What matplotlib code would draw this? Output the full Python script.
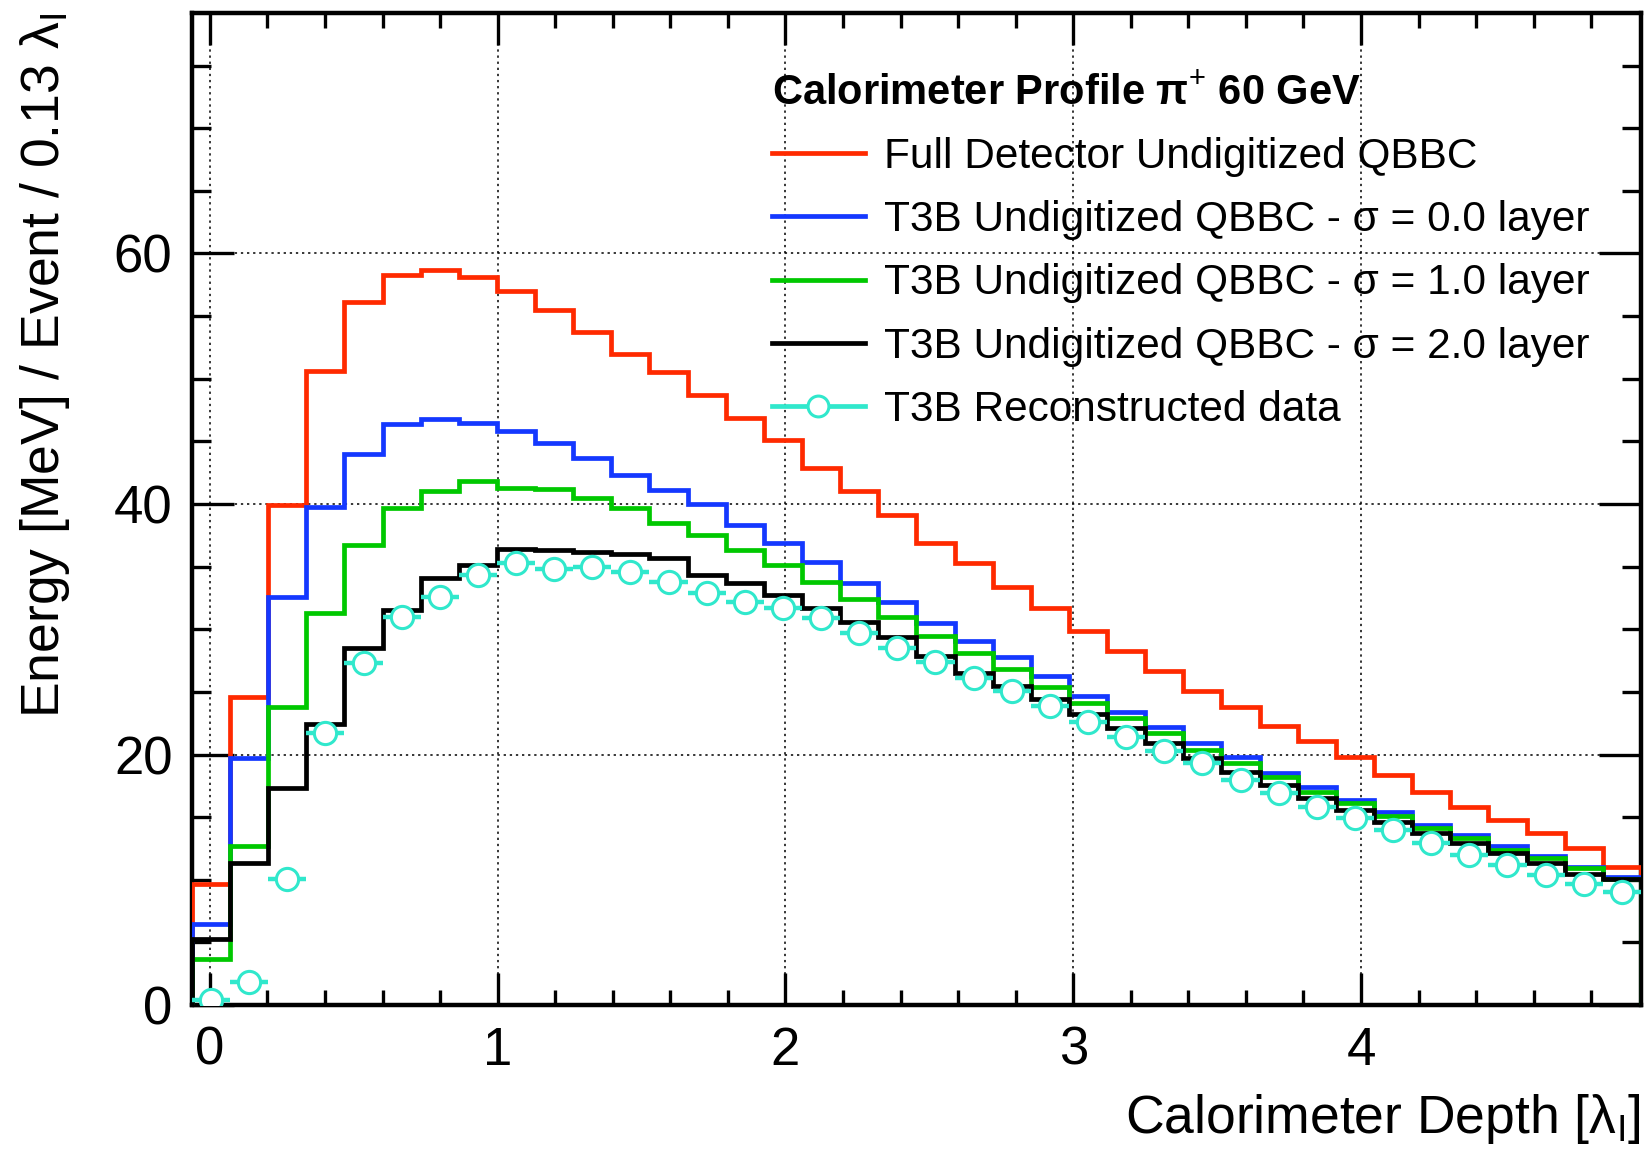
import numpy as np
import matplotlib.pyplot as plt
from matplotlib.lines import Line2D
from matplotlib.ticker import MultipleLocator

plt.rcParams['font.family'] = ['Liberation Sans', 'DejaVu Sans']
plt.rcParams['mathtext.fontset'] = 'custom'
plt.rcParams['mathtext.rm'] = 'Liberation Sans'
plt.rcParams['mathtext.it'] = 'Liberation Sans:italic'
plt.rcParams['mathtext.bf'] = 'Liberation Sans:bold'

# binning: 38 bins of ~0.13 lambda_I
x_start = -0.0625
bin_width = 0.1325
n_bins = 38

# energy per bin [MeV / event]
full_detector = [9.7, 24.6, 39.9, 50.6, 56.1, 58.3, 58.7, 58.1, 57.0, 55.5,
                 53.7, 52.0, 50.5, 48.7, 46.9, 45.1, 42.9, 41.0, 39.1, 36.9,
                 35.3, 33.4, 31.7, 29.9, 28.3, 26.7, 25.1, 23.8, 22.3, 21.1,
                 19.8, 18.4, 17.0, 15.8, 14.8, 13.7, 12.5, 11.0]
t3b_sigma0 = [6.5, 19.7, 32.6, 39.8, 44.0, 46.4, 46.8, 46.5, 45.8, 44.9,
              43.7, 42.3, 41.1, 40.0, 38.3, 36.9, 35.4, 33.7, 32.2, 30.5,
              29.1, 27.8, 26.3, 24.7, 23.4, 22.2, 20.9, 19.8, 18.5, 17.4,
              16.4, 15.4, 14.4, 13.6, 12.7, 11.9, 11.0, 10.2]
t3b_sigma1 = [3.7, 12.7, 23.8, 31.3, 36.7, 39.7, 41.0, 41.8, 41.3, 41.2,
              40.5, 39.7, 38.5, 37.5, 36.3, 35.1, 33.8, 32.4, 31.0, 29.5,
              28.1, 26.8, 25.4, 24.1, 22.9, 21.7, 20.4, 19.3, 18.2, 17.0,
              16.1, 15.1, 14.1, 13.3, 12.4, 11.7, 10.9, 10.1]
t3b_sigma2 = [5.3, 11.3, 17.3, 22.4, 28.5, 31.5, 34.1, 35.1, 36.4, 36.3,
              36.2, 36.0, 35.7, 34.3, 33.7, 32.7, 31.7, 30.6, 29.4, 27.9,
              26.5, 25.5, 24.4, 23.2, 22.1, 20.9, 19.7, 18.6, 17.6, 16.5,
              15.6, 14.6, 13.7, 12.9, 12.1, 11.3, 10.5, 10.1]
t3b_data = [0.4, 1.8, 10.1, 21.7, 27.3, 31.0, 32.6, 34.3, 35.3, 34.8,
            35.0, 34.6, 33.8, 32.9, 32.2, 31.7, 30.9, 29.7, 28.5, 27.4,
            26.1, 25.1, 23.9, 22.6, 21.4, 20.3, 19.3, 18.0, 16.9, 15.8,
            14.9, 14.0, 12.9, 12.0, 11.2, 10.4, 9.7, 9.0]

labels = ['Full Detector Undigitized QBBC',
          'T3B Undigitized QBBC - σ = 0.0 layer',
          'T3B Undigitized QBBC - σ = 1.0 layer',
          'T3B Undigitized QBBC - σ = 2.0 layer',
          'T3B Reconstructed data']
colors = ['#ff2a00', '#1438ff', '#00c800', '#000000']
data_color = '#30e8cc'

edges = x_start + bin_width * np.arange(n_bins + 1)
centers = 0.5 * (edges[:-1] + edges[1:])

fig = plt.figure(figsize=(16.46, 11.49), dpi=100)
ax = fig.add_axes([0.1166, 0.1253, 0.8803, 0.8634])

lw = 3.4
for vals, c in zip([full_detector, t3b_sigma0, t3b_sigma1, t3b_sigma2], colors):
    ax.stairs(vals, edges, color=c, lw=lw, zorder=3)

ax.errorbar(centers, t3b_data, xerr=bin_width / 2, fmt='o', ms=16, mfc='white',
            mec=data_color, mew=2.2, ecolor=data_color, elinewidth=3.2,
            capsize=0, zorder=4)

ax.set_xlim(x_start, edges[-1])
ax.set_ylim(0, 79.2)

ax.xaxis.set_major_locator(MultipleLocator(1))
ax.xaxis.set_minor_locator(MultipleLocator(0.2))
ax.yaxis.set_major_locator(MultipleLocator(20))
ax.yaxis.set_minor_locator(MultipleLocator(5))
ax.tick_params(which='both', direction='in', top=True, right=True, width=2.4,
               labelsize=38)
ax.tick_params(axis='x', which='major', length=23, pad=15)
ax.tick_params(axis='x', which='minor', length=11)
ax.tick_params(axis='y', which='major', length=30, pad=14)
ax.tick_params(axis='y', which='minor', length=14)
for s in ax.spines.values():
    s.set_linewidth(3.2)

ax.grid(True, which='major', linestyle=(0, (1.5, 2.5)), color='black', lw=1.1)

ax.set_xlabel(r'Calorimeter Depth [λ$_{\mathrm{I}}$]', fontsize=38.5, loc='right')
ax.xaxis.set_label_coords(1.0, -0.088)
ax.set_ylabel(r'Energy [MeV] / Event / 0.13 λ$_{\mathrm{I}}$', fontsize=38.5, loc='top')
ax.yaxis.set_label_coords(-0.083, 1.0)

handles = [Line2D([], [], color=c, lw=lw) for c in colors]
handles.append(Line2D([], [], color=data_color, lw=lw, marker='o', ms=15,
                      mfc='white', mec=data_color, mew=2.2))
ax.legend(handles, labels, title=r'Calorimeter Profile π$^{+}$ 60 GeV',
          title_fontproperties={'weight': 'bold', 'size': 30}, alignment='left',
          fontsize=30.5, frameon=False, loc='upper left',
          bbox_to_anchor=(0.40, 0.939), borderaxespad=0, borderpad=0,
          handlelength=2.2, handletextpad=0.45, labelspacing=0.55)

fig.savefig('out.png', dpi=100)
